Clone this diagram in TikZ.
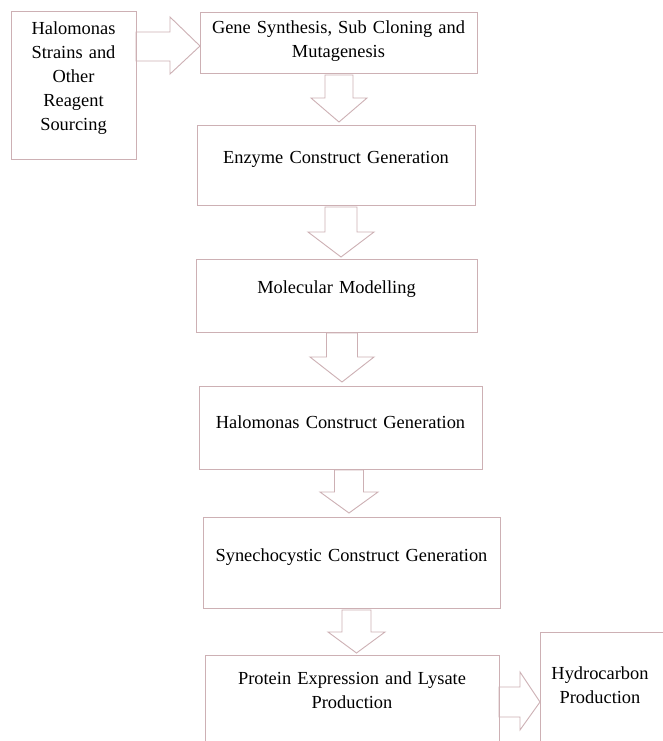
\documentclass[tikz,border=0pt]{standalone}
\usepackage{fontspec}
\setmainfont{Liberation Serif}
\definecolor{edge}{RGB}{205,176,180}
\newcommand{\blockdown}[6]{% cx, shaft half, head half, top y, head y, tip y
  \draw[arrowshape] (#1-#2,#4) -- (#1+#2,#4) -- (#1+#2,#5) -- (#1+#3,#5) -- (#1,#6) -- (#1-#3,#5) -- (#1-#2,#5) -- cycle;}
\begin{document}
\begin{tikzpicture}[x=1pt,y=-1pt,
  box/.style={draw=edge, line width=0.9pt, inner sep=0pt, rectangle},
  arrowshape/.style={draw=edge, line width=0.9pt, line join=miter},
  lbl/.style={font=\fontsize{18.4}{24}\selectfont, align=center, inner sep=0pt, anchor=base}]
\useasboundingbox (0,0) rectangle (663,741);
\clip (0,0) rectangle (663,741);
\fill[white] (0,0) rectangle (663,741);
% boxes
\node[box, minimum width=125pt, minimum height=148pt] (b1) at (73.5,85) {};
\node[box, minimum width=277pt, minimum height=61pt] (b2) at (338.5,42.5) {};
\node[box, minimum width=278pt, minimum height=80pt] (b3) at (336,165) {};
\node[box, minimum width=281pt, minimum height=73pt] (b4) at (336.5,295.5) {};
\node[box, minimum width=283pt, minimum height=83pt] (b5) at (340.5,427.5) {};
\node[box, minimum width=297pt, minimum height=91pt] (b6) at (351.5,562.5) {};
\node[box, minimum width=294pt, minimum height=105pt] (b7) at (352,707.5) {};
\node[box, minimum width=140pt, minimum height=128pt] (b8) at (610,696) {};
% texts
\node[lbl, text width=115pt] (t1) at (73.5,35) {Halomonas\\Strains and\\Other\\Reagent\\Sourcing};
\node[lbl, text width=270pt] (t2) at (338.5,34) {Gene Synthesis, Sub Cloning and\\Mutagenesis};
\node[lbl, text width=270pt] (t3) at (336,163) {Enzyme Construct Generation};
\node[lbl, text width=270pt] (t4) at (336.5,293) {Molecular Modelling};
\node[lbl, text width=275pt] (t5) at (340.5,428) {Halomonas Construct Generation};
\node[lbl, text width=290pt] (t6) at (351.5,561) {Synechocystic Construct Generation};
\node[lbl, text width=285pt] (t7) at (352,684) {Protein Expression and Lysate\\Production};
\node[lbl, text width=115pt] (t8) at (600,679) {Hydrocarbon\\Production};
% right block arrows
\draw[arrowshape] (136,32) -- (170,32) -- (170,17) -- (200,46) -- (170,74) -- (170,61) -- (136,61) -- cycle;
\draw[arrowshape] (499,687) -- (520,687) -- (520,672) -- (540,702) -- (520,730) -- (520,717) -- (499,717) -- cycle;
% down block arrows
\blockdown{339}{14}{28}{75}{98}{122}
\blockdown{341}{16}{33}{207}{232}{257}
\blockdown{342}{15.5}{32}{333}{357}{382}
\blockdown{349}{14.5}{29}{470}{492}{513}
\blockdown{356.5}{14.5}{28.5}{610}{632}{653}
\end{tikzpicture}
\end{document}
